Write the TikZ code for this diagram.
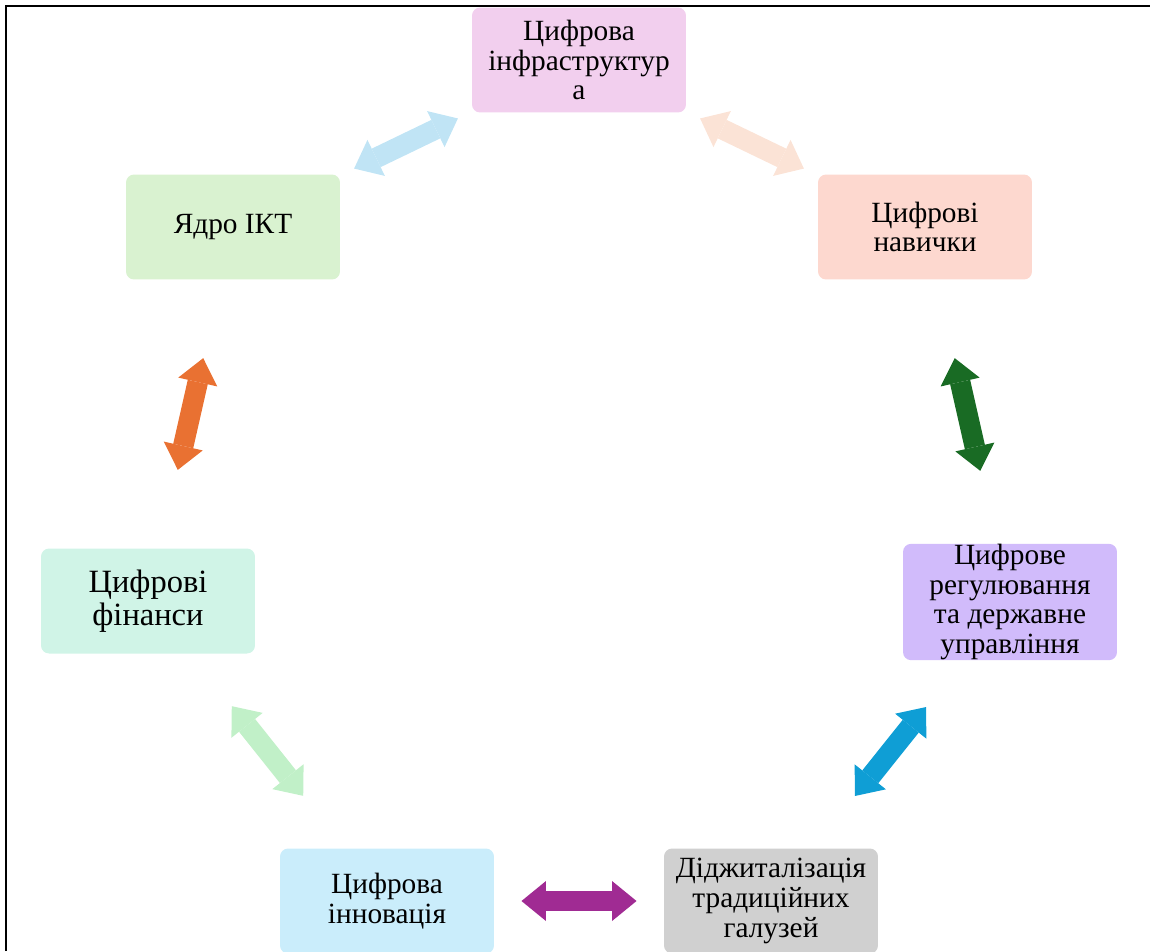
\documentclass[tikz,border=0pt]{standalone}
\usepackage{fontspec}
\setmainfont{Liberation Serif}
\usepackage{xcolor}
\usepackage{tikz}
\usetikzlibrary{arrows.meta, positioning}
\definecolor{infraC}{HTML}{F2CFEE}
\definecolor{coreC}{HTML}{D9F2D0}
\definecolor{skillsC}{HTML}{FDD8CF}
\definecolor{financeC}{HTML}{D0F4E7}
\definecolor{regulC}{HTML}{D1BBFB}
\definecolor{innovC}{HTML}{CAEDFB}
\definecolor{digitC}{HTML}{D0D0D0}
\definecolor{skyA}{HTML}{C0E4F5}
\definecolor{peachA}{HTML}{FBE3D6}
\definecolor{greenA}{HTML}{196B24}
\definecolor{blueA}{HTML}{0F9ED5}
\definecolor{purpleA}{HTML}{A02B93}
\definecolor{mintA}{HTML}{C1F0C8}
\definecolor{orangeA}{HTML}{E97132}
\tikzset{
    box/.style={rectangle, rounded corners=0.16cm, fill=#1, minimum width=4.28cm, minimum height=2.1cm, inner sep=0pt, align=center, font=\fontsize{16.7}{17}\selectfont},
    link/.style={draw=#1, line width=0.41cm, {Triangle[length=0.49cm, width=0.8cm, line width=0pt]}-{Triangle[length=0.49cm, width=0.8cm, line width=0pt]}, shorten <=2.69cm, shorten >=2.69cm}
}

\begin{document}
\begin{tikzpicture}[x=0.02cm, y=-0.02cm]
            \useasboundingbox (0,0) rectangle (1150,951);
            % Frame
            \draw[line width=0.04cm] (6,951) -- (6,6) -- (1150,6);

            % Boxes
            \node[box=infraC] (infra) at (579,60) {Цифрова\\інфраструктур\\а};
            \node[box=coreC] (core) at (233,227) {Ядро ІКТ};
            \node[box=skillsC] (skills) at (925,227) {Цифрові\\навички};
            \node[box=financeC, font=\fontsize{18.5}{18.5}\selectfont] (finance) at (148,601) {Цифрові\\фінанси};
            \node[box=regulC] (regul) at (1010,602) {Цифрове\\регулювання\\та державне\\управління};
            \node[box=innovC] (innov) at (387,901) {Цифрова\\інновація};
            \node[box=digitC] (digit) at (771,901) {Діджиталізація\\традиційних\\галузей};

            % Double arrows
            \draw[link=skyA] (core.center) -- (infra.center);
            \draw[link=peachA] (infra.center) -- (skills.center);
            \draw[link=greenA] (skills.center) -- (regul.center);
            \draw[link=blueA] (regul.center) -- (digit.center);
            \draw[link=purpleA] (digit.center) -- (innov.center);
            \draw[link=mintA] (innov.center) -- (finance.center);
            \draw[link=orangeA] (finance.center) -- (core.center);
        \end{tikzpicture}
\end{document}
